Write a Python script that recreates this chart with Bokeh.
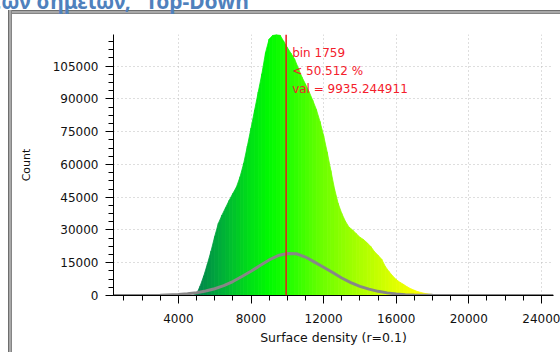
import numpy as np
from bokeh.plotting import figure
from bokeh.models import (Range1d, SingleIntervalTicker, BasicTickFormatter, Span, Label,
                          ColumnDataSource)
from bokeh.embed import file_html
from bokeh.resources import INLINE

# ---- data ----
density_x = [4400, 4600, 4800, 5000, 5200, 5400, 5600, 5800, 6000, 6200, 6400, 6600,
             6800, 7000, 7200, 7400, 7600, 7800, 8000, 8200, 8400, 8600, 8800, 9000,
             9200, 9400, 9600, 9800, 10000, 10200, 10400, 10600, 10800, 11000, 11200, 11400,
             11600, 11800, 12000, 12200, 12400, 12600, 12800, 13000, 13200, 13400, 13600, 13800,
             14000, 14200, 14400, 14600, 14800, 15000, 15200, 15400, 15600, 15800, 16000, 16200,
             16400, 16600, 16800, 17000, 17200, 17400, 17600, 17800, 18000, 18200, 18400, 18600,
             18800]
density_y = [0, 0, 100, 700, 4400, 9000, 14500, 20400, 27000, 33000, 36800, 40200,
             43600, 46700, 49700, 54400, 60600, 68400, 76600, 84900, 93200, 101500, 111200, 117400,
             119100, 119450, 119200, 116400, 113500, 110900, 108300, 104200, 100100, 96800, 93300, 89400,
             85200, 79700, 73200, 65600, 57200, 48900, 42200, 37600, 34000, 31300, 30000, 28300,
             26700, 25600, 24100, 22400, 20100, 18400, 16600, 13300, 11000, 9000, 7300, 6100,
             5100, 4000, 3100, 2400, 1750, 1300, 900, 650, 450, 300, 180, 80,
             0]

normal_x = [424, 2000, 3000, 4000, 4500, 5000, 5500, 6000, 6500, 7000, 7500, 8000, 8500,
            9000, 9500, 10000, 10500, 11000, 11500, 12000, 12500, 13000, 13500, 14000,
            14500, 15000, 15500, 16000, 16500, 17000, 18000, 19000, 20000, 24667]
normal_y = [0, 20, 80, 450, 780, 1250, 2050, 3100, 4500, 6400, 8700, 11100, 13700,
            16300, 18300, 19200, 19100, 17600, 15300, 12900, 10500, 8000, 5900, 4200,
            2900, 1900, 1200, 700, 400, 220, 60, 15, 0, 0]

marker_value = 9935.244911
marker_lines = ["bin 1759", "< 50.512 %", "val = 9935.244911"]

title_text = "των σημείων, \u201cTop-Down\u201d"
x_label = "Surface density (r=0.1)"
y_label = "Count"

x_start, x_end = 424, 24667
y_start, y_end = 0, 119500

# colour gradient along x (style)
grad_x = [5000, 6500, 8000, 9000, 10000, 12000, 14000, 16000, 17500]
grad_r = [0, 0, 0, 0, 30, 110, 170, 225, 255]
grad_g = [130, 178, 225, 250, 255, 255, 255, 255, 255]
grad_b = [78, 55, 22, 0, 0, 0, 0, 0, 0]

# ---- figure (shifted up so the cut-off heading can sit above the window edge) ----
SHIFT = 40
p = figure(width=560, height=352 + SHIFT, output_backend="svg", toolbar_location=None,
           x_range=Range1d(x_start, x_end), y_range=Range1d(y_start, y_end),
           min_border_left=113, min_border_right=7, min_border_top=34 + SHIFT, min_border_bottom=57)
band_v = "linear-gradient(to right, #6e6e6e 0px, #6e6e6e 1px, #a8a8a8 1px, #a8a8a8 3px, #858585 3px, #858585 4px)"
band_h = "linear-gradient(to bottom, #6e6e6e 0px, #6e6e6e 1px, #a8a8a8 1px, #a8a8a8 3px, #858585 3px, #858585 4px)"
p.styles = {
    "margin": "-%dpx 0px 0px 0px" % SHIFT,
    "background-color": "white",
    "background-image": band_v + ", " + band_h,
    "background-position": "8px %dpx, 8px %dpx" % (10 + SHIFT, 10 + SHIFT),
    "background-size": "4px 342px, 552px 4px",
    "background-repeat": "no-repeat, no-repeat",
}
p.border_fill_color = None
p.background_fill_color = "white"
p.outline_line_color = None

# page heading (cut off at the top of the window)
p.title.text = title_text
p.title.align = "right"
p.title.offset = 295
p.title.vertical_align = "top"
p.title.standoff = 36
p.title.text_font = "Noto Sans"
p.title.text_font_style = "bold"
p.title.text_font_size = "21px"
p.title.text_color = "#4f81bd"

# filled density, coloured by x
xs, ys, cols = [], [], []
for i in range(len(density_x) - 1):
    x0, x1 = density_x[i], density_x[i + 1]
    xs.append([x0, x0, x1, x1])
    ys.append([0, density_y[i], density_y[i + 1], 0])
    xm = 0.5 * (x0 + x1)
    r = int(round(np.interp(xm, grad_x, grad_r)))
    g = int(round(np.interp(xm, grad_x, grad_g)))
    b = int(round(np.interp(xm, grad_x, grad_b)))
    cols.append("#%02x%02x%02x" % (r, g, b))
src = ColumnDataSource(dict(xs=xs, ys=ys, c=cols))
p.patches("xs", "ys", source=src, fill_color="c", line_color="c", line_width=0.8)

# fitted normal curve
p.line(normal_x, normal_y, line_color="#878787", line_width=3)

# marker line + text
p.add_layout(Span(location=marker_value, dimension="height", line_color="#ea1a1a", line_width=1.5))
for k, t in enumerate(marker_lines):
    p.add_layout(Label(x=marker_value, y=y_end, x_offset=6, y_offset=-18 - 18 * k, text=t,
                       text_color="#f4202c", text_font="DejaVu Sans", text_font_size="12px",
                       text_baseline="alphabetic", text_align="left"))

# axes
for ax in (p.xaxis[0], p.yaxis[0]):
    ax.axis_line_color = "black"
    ax.major_tick_line_color = "black"
    ax.minor_tick_line_color = "black"
    ax.major_tick_in = 0
    ax.minor_tick_in = 0
    ax.major_tick_out = 8
    ax.minor_tick_out = 5
    ax.major_label_text_font = "DejaVu Sans"
    ax.major_label_text_font_size = "12px"
    ax.major_label_text_color = "#111111"

p.xaxis.ticker = SingleIntervalTicker(interval=4000, num_minor_ticks=4)
p.yaxis.ticker = SingleIntervalTicker(interval=15000, num_minor_ticks=4)
p.yaxis.formatter = BasicTickFormatter(use_scientific=False)
p.xaxis.formatter = BasicTickFormatter(use_scientific=False)
p.xaxis.major_label_standoff = 10
p.yaxis.major_label_standoff = 7

p.xaxis.axis_label = x_label
p.xaxis.axis_label_text_font = "DejaVu Sans"
p.xaxis.axis_label_text_font_size = "12.5px"
p.xaxis.axis_label_text_font_style = "normal"
p.xaxis.axis_label_text_color = "#111111"
p.xaxis.axis_label_standoff = 4

p.yaxis.axis_label = y_label
p.yaxis.axis_label_text_font = "DejaVu Sans"
p.yaxis.axis_label_text_font_size = "11px"
p.yaxis.axis_label_text_font_style = "normal"
p.yaxis.axis_label_text_color = "#111111"
p.yaxis.axis_label_standoff = 17

# grid
for g in (p.xgrid[0], p.ygrid[0]):
    g.grid_line_color = "#bdbdbd"
    g.grid_line_dash = "1 3"
    g.grid_line_width = 1

open("out.html", "w").write(file_html(p, INLINE))
